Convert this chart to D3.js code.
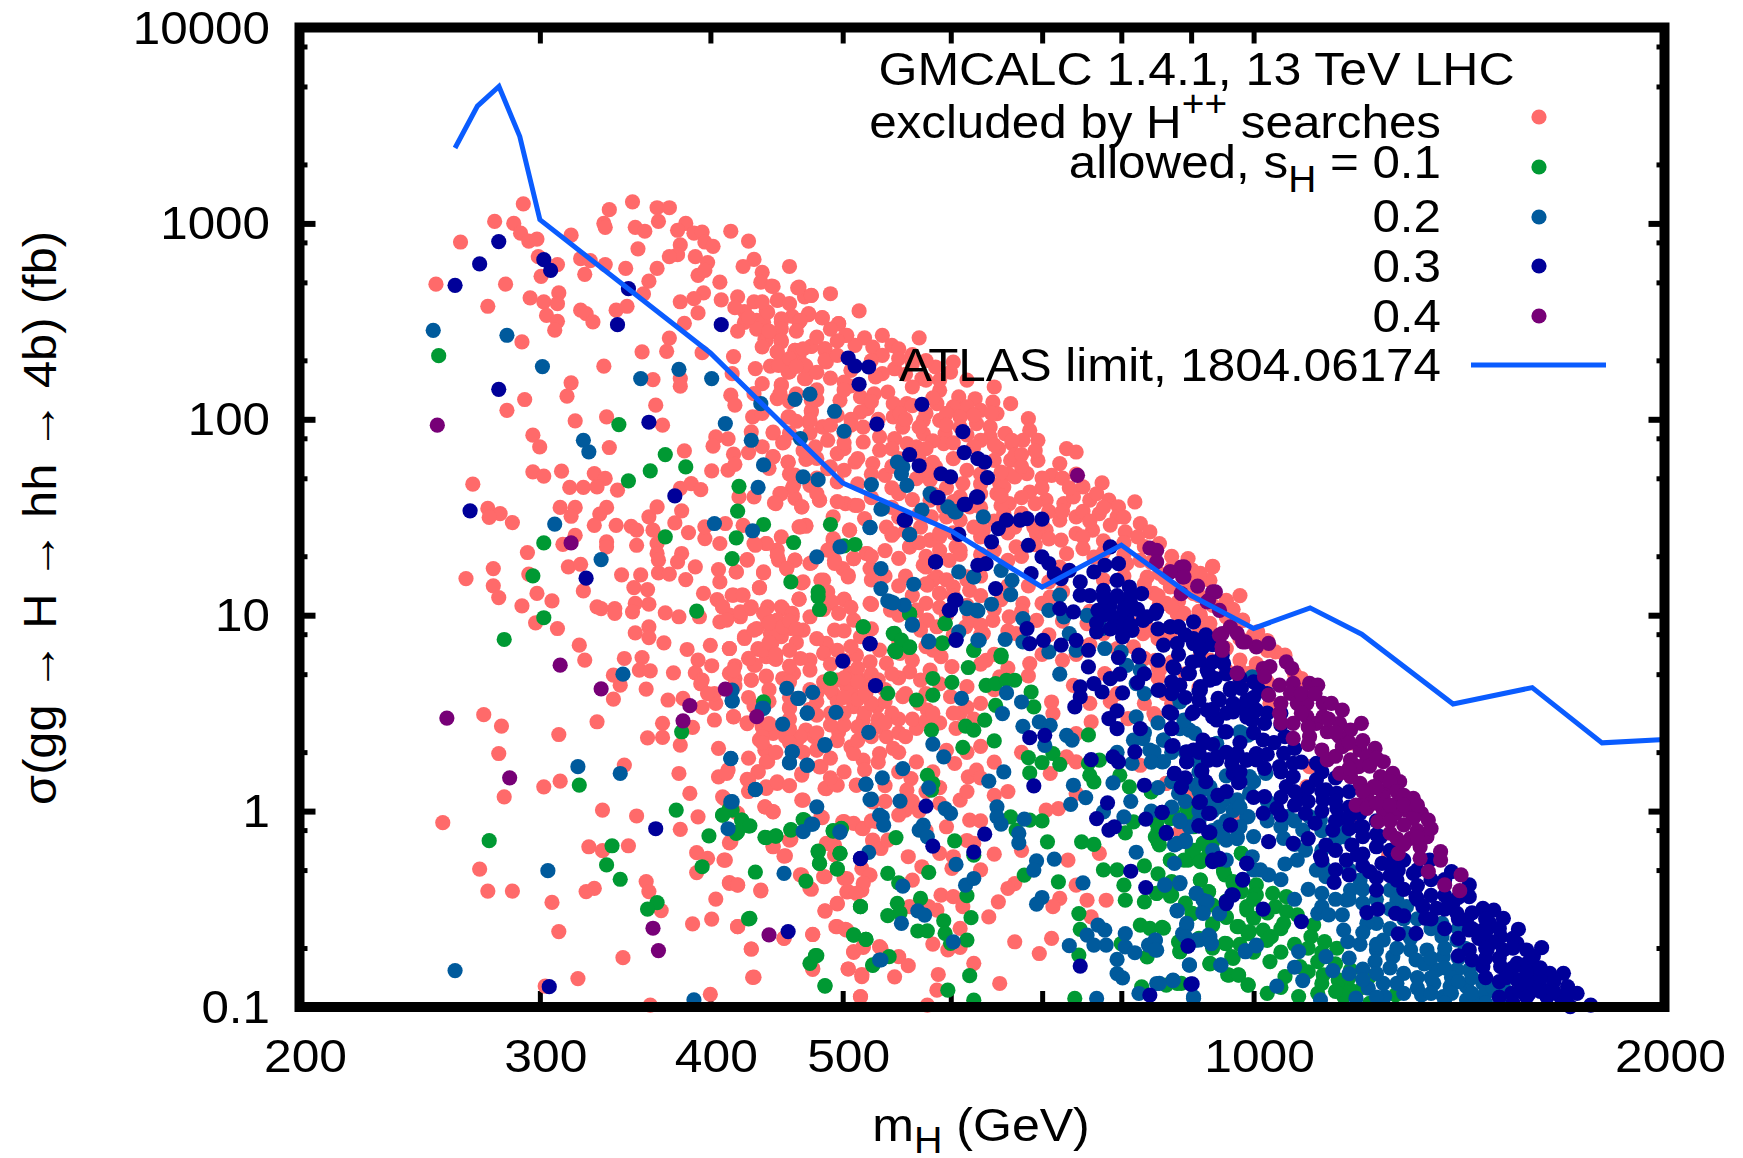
<!DOCTYPE html>
<html><head><meta charset="utf-8">
<script src="https://cdnjs.cloudflare.com/ajax/libs/d3/7.8.5/d3.min.js"></script>
<style>html,body{margin:0;background:#fff}svg{display:block}text{font-family:"Liberation Sans",Arial,sans-serif;fill:#000}</style>
</head><body><svg id="c" width="1743" height="1158"></svg>
<script>
// Points are stored as flat pairs: log10(mH / GeV), log10(sigma / fb)
const excluded=[
2.465,3.1,2.444,3.01,2.458,3,2.463,2.95,2.469,2.91,2.475,2.92,2.419,2.905,2.5,2.94,2.476,2.83,2.49,2.79,2.478,2.73,2.401,2.69,2.452,2.69,2.507,2.82,2.514,2.81,2.51,2.74,2.525,2.79,2.54,2.77,2.47,2.62,2.48,2.6,2.491,2.645,2.49,2.59,2.482,2.53,2.49,2.5,2.488,2.455,2.439,2.577,2.507,2.557,2.511,2.54,2.516,2.497,2.464,2.395,2.533,2.557,2.541,2.577,2.553,2.64,2.557,2.705,2.563,2.77,
2.524,3,2.528,3.07,2.525,2.98,2.545,3.11,2.563,3.08,2.572,3.08,2.564,3.01,2.547,2.98,2.554,2.96,2.549,2.87,2.584,3,2.578,2.965,2.58,2.89,2.578,2.84,2.572,2.83,2.59,2.95,2.596,2.956,2.598,2.905,2.604,2.883,2.591,2.83,2.6,2.8,2.593,2.735,2.598,2.76,2.617,2.96,2.63,2.91,2.634,2.816,2.626,2.78,2.64,2.75,2.639,2.7,2.647,2.68,2.66,2.78,2.609,2.7,2.61,2.61,2.622,2.625,2.597,2.645,2.59,2.616,2.58,2.6,2.593,2.543,2.583,2.49,2.572,2.415,2.57,2.347,2.552,2.344,2.596,2.34,2.619,2.32,
2.634,2.6,2.627,2.55,2.643,2.55,2.636,2.505,2.627,2.495,2.641,2.495,2.636,2.46,2.622,2.45,2.651,2.607,2.667,2.675,2.671,2.625,2.676,2.633,2.69,2.641,2.711,2.553,2.696,2.488,2.702,2.429,2.684,2.519,2.674,2.534,2.662,2.526,2.667,2.497,2.654,2.497,2.652,2.437,2.654,2.395,2.642,2.407,2.651,2.344,2.664,2.352,2.676,2.373,2.686,2.361,2.687,2.293,2.667,2.31,2.672,2.272,2.654,2.293,2.646,2.271,2.66,2.242,2.672,2.208,2.635,2.259,2.618,2.233,2.64,2.182,2.654,2.177,2.617,2.123,2.62,2.072,2.634,2.131,2.651,2.106,2.66,2.09,2.676,2.097,2.676,2.038,2.66,2.012,2.633,2.012,2.64,2.03,2.674,1.987,2.684,1.961,2.648,1.93,2.655,1.88,2.632,1.936,2.615,1.9,2.606,1.91,2.604,1.863,2.619,1.822,2.648,1.81,2.659,1.78,2.672,1.795,2.615,1.74,2.603,1.737,2.664,1.715,2.675,1.663,2.69,1.757,2.662,1.647,2.654,1.621,2.65,1.57,2.664,1.596,2.669,1.553,2.682,1.587,
2.58,2.208,2.58,2.169,2.56,2.203,2.524,2.271,2.5,2.186,2.497,2.118,2.466,2.101,2.453,2.046,2.562,2.072,2.526,2.012,2.503,1.992,2.567,1.97,2.472,1.919,2.477,1.859,2.528,1.856,2.583,1.839,2.472,1.732,2.48,1.71,2.493,1.735,2.428,1.669,2.517,1.723,2.525,1.698,2.499,1.652,2.509,1.652,2.519,1.655,2.534,1.638,2.58,1.647,2.588,1.672,2.595,1.641,2.634,1.604,2.623,1.604,
2.439,1.545,2.448,1.519,2.44,1.499,2.457,1.473,2.492,1.55,2.503,1.55,2.5,1.505,2.526,1.55,2.521,1.516,2.517,1.459,2.533,1.459,2.544,1.454,2.548,1.434,2.557,1.502,2.563,1.553,2.581,1.533,2.576,1.471,2.586,1.422,2.56,1.434,2.503,1.408,2.494,1.362,2.468,1.32,2.526,1.374,2.526,1.349,2.548,1.357,2.563,1.366,2.563,1.315,2.564,1.281,2.443,1.238,2.423,1.187,2.443,1.15,2.447,1.09,2.464,1.048,2.475,1.111,2.486,1.073,2.498,1.247,2.507,1.26,2.509,1.124,2.469,1.21,2.537,1.206,2.551,1.206,2.564,1.216,2.572,1.21,2.584,1.182,2.591,1.247,2.581,1.315,2.578,1.272,2.546,1.141,2.556,1.131,2.557,1.056,2.547,1.06,2.545,1.017,2.532,1.034,2.532,1.009,2.519,1.043,2.522,1.034,2.569,1.012,2.579,.992,2.594,.992,2.597,1.111,2.608,1.233,2.609,1.17,2.607,1.08,2.611,1.043,2.609,.966,2.618,1.102,2.625,1.102,2.631,1.034,2.624,.992,2.616,1,2.638,1.141,2.641,1.221,2.629,1.284,2.621,1.221,2.609,1.366,2.598,1.391,2.598,1.451,2.613,1.468,2.626,1.459,2.634,1.366,2.643,1.366,2.651,1.332,2.652,1.281,2.658,1.238,2.664,1.281,2.669,1.165,2.667,1.082,2.683,1.179,2.688,1.119,2.689,1.06,2.7,1.082,2.72,1.056,2.703,1.204,2.693,1.281,2.699,1.238,2.707,1.289,2.716,1.315,2.72,1.238,2.675,1.264,2.704,1.434,2.692,1.383,2.668,1.451,2.672,1.459,
2.644,1.043,2.655,1.034,2.662,.992,2.644,.975,2.653,.958,2.661,.932,2.646,.907,2.654,.89,2.636,.932,2.627,.89,2.647,.856,2.637,.825,2.643,.788,2.65,.774,2.634,.745,2.643,.689,2.632,.669,2.616,.83,2.602,.846,2.585,.825,2.568,.859,2.547,.91,2.557,.941,2.557,.886,2.506,.847,2.51,.771,2.49,.932,2.474,.961,2.539,.779,2.552,.784,2.55,.72,2.558,.716,2.531,.694,2.536,.643,2.531,.572,2.555,.623,2.575,.706,2.593,.771,2.603,.742,2.591,.706,2.596,.669,2.62,.742,2.616,.703,2.62,.677,
2.571,.567,2.582,.575,2.596,.529,2.606,.55,2.605,.465,2.619,.482,2.629,.451,2.567,.448,2.567,.376,2.556,.374,2.58,.337,2.589,.427,2.634,.536,2.66,.529,2.519,.456,2.491,.391,2.436,.492,2.449,.434,2.447,.294,2.492,.153,2.48,.124,2.451,.073,2.539,.235,2.579,.192,2.608,.32,2.608,.175,2.615,.21,2.629,.162,2.637,.2,2.644,.252,2.643,.312,2.638,.363,2.648,.397,2.657,.38,2.665,.354,2.64,.43,2.672,.414,2.678,.38,2.68,.312,2.683,.227,2.669,.184,2.651,.141,2.643,.116,2.686,.116,2.695,.133,2.709,.133,2.669,.056,2.587,.09,2.612,.065,2.523,.005,2.548,-.025,2.593,-.029,2.58,-.093,2.642,.022,2.648,-.003,2.62,-.003,2.683,-.029,2.7,-.054,2.713,-.088,2.724,-.054,
2.406,-.059,2.513,-.182,2.523,-.202,2.542,-.177,2.617,-.156,2.661,-.144,2.648,-.182,2.592,-.212,2.6,-.241,2.612,-.25,2.592,-.314,2.657,-.228,2.688,-.165,2.693,-.224,2.721,-.151,2.718,-.326,2.7,-.343,2.685,-.335,2.668,-.326,2.433,-.296,2.439,-.408,2.457,-.408,2.486,-.466,2.511,-.411,2.517,-.394,2.555,-.36,2.557,-.411,2.566,-.508,2.616,-.365,2.622,-.377,2.639,-.403,2.676,-.399,2.606,-.449,2.603,-.551,2.589,-.576,2.622,-.59,2.686,-.51,2.695,-.474,2.703,-.411,2.713,-.403,2.694,-.59,2.702,-.607,2.677,-.629,2.656,-.649,2.491,-.615,2.632,-.704,2.538,-.748,2.505,-.855,2.481,-.893,2.634,-.848,2.602,-.935,2.558,-.99,2.707,-.717,2.677,-.802,2.703,-.806,2.713,-.845,2.712,-.947,2.714,-.692,2.727,-.7,
2.728,2.428,2.755,2.416,2.715,2.416,2.708,2.377,2.721,2.369,2.735,2.377,2.74,2.36,2.728,2.326,2.75,2.284,2.737,2.258,2.728,2.233,2.723,2.216,2.767,2.267,2.778,2.241,2.78,2.292,2.757,2.207,2.75,2.165,2.732,2.139,2.736,2.08,2.746,2.08,2.77,2.148,2.784,2.114,2.796,2.105,2.81,2.165,2.822,2.08,2.809,2.088,2.812,2.029,2.8,2.046,2.79,2.063,2.78,2.063,2.768,2.08,2.77,1.995,2.785,2.012,2.797,1.978,2.807,1.961,2.818,1.927,2.807,1.91,2.8,1.893,2.823,1.876,2.813,1.85,2.774,1.927,2.773,1.876,2.758,1.927,2.758,1.995,2.743,1.96,2.736,2.012,2.741,2.029,2.737,1.901,2.746,1.876,2.753,1.859,2.726,1.91,2.714,1.884,2.726,1.842,2.712,2.037,2.717,2.054,2.714,1.96,2.697,2.097,2.712,2.114,2.78,1.799,2.79,1.739,2.767,1.757,2.721,1.774,2.708,1.782,2.73,1.714,2.753,1.697,2.822,1.79,2.82,1.722,2.814,1.672,2.787,1.672,
2.685,1.96,2.688,1.893,2.679,1.859,2.695,1.825,2.673,1.799,2.659,1.782,2.648,1.808,2.688,1.748,2.676,2.046,2.675,1.995,2.659,2.012,2.648,1.935,2.656,1.884,2.654,2.173,2.653,2.131,2.671,2.207,2.671,2.275,2.659,2.241,2.652,2.275,2.664,2.352,2.676,2.372,2.686,2.352,2.686,2.301,2.695,2.326,2.674,2.539,2.684,2.518,2.668,2.505,2.696,2.488,2.701,2.428,2.654,2.513,2.654,2.462,2.654,2.403,2.651,2.343,2.643,2.403,2.644,2.547,2.652,2.61,2.648,2.678,2.666,2.671,2.676,2.632,
2.835,2.003,2.836,1.944,2.818,1.927,2.831,1.893,2.842,1.893,2.813,1.85,2.823,1.893,2.825,1.816,2.863,1.85,2.87,1.833,2.842,1.79,2.858,1.774,2.852,1.714,2.834,1.723,2.825,1.706,2.817,1.655,2.812,1.62,2.821,1.57,2.836,1.629,2.848,1.587,2.861,1.57,2.875,1.655,2.889,1.675,2.868,1.604,2.88,1.587,2.894,1.587,2.901,1.553,2.913,1.578,2.887,1.519,2.87,1.502,2.9,1.502,2.858,1.485,2.848,1.434,2.859,1.383,2.87,1.416,2.882,1.434,2.906,1.425,2.917,1.467,2.924,1.425,2.931,1.366,2.952,1.289,2.97,1.25,2.956,1.195,2.968,1.178,2.907,1.263,2.922,1.195,2.939,1.144,2.931,1.06,2.944,1.008,2.956,1.11,2.98,1.076,2.98,.991,2.992,.974,2.917,1.28,2.883,1.297,2.863,1.314,2.841,1.416,2.817,1.519,
2.782,1.349,2.777,1.28,2.76,1.246,2.765,1.178,2.77,1.11,2.792,1.127,2.736,1.416,2.748,1.349,2.763,1.383,2.719,1.06,2.753,1.025,2.76,.974,2.809,.974,2.821,.991,2.831,1.06,2.841,.974,2.851,1.093,2.826,.906,2.792,.991,2.802,.906,2.878,.957,2.89,.906,2.919,.906,2.902,.974,2.912,.838,2.939,.906,2.97,.906,2.858,1.246,2.826,1.349,2.839,1.45,2.802,1.433,2.785,1.485,2.792,1.553,2.731,1.45,2.764,1.502,2.775,1.502,2.773,1.553,2.785,1.604,2.756,1.45,2.763,1.587,2.763,1.689,
2.653,1.621,2.649,1.573,2.663,1.663,2.669,1.553,2.682,1.587,2.701,1.57,2.708,1.561,2.692,1.502,2.715,1.493,2.704,1.434,2.672,1.454,2.667,1.451,2.692,1.391,2.688,1.332,2.643,1.366,2.635,1.357,2.654,1.4,2.651,1.306,2.664,1.281,2.658,1.238,2.676,1.267,2.693,1.264,2.703,1.196,2.717,1.315,2.719,1.238,2.707,1.289,2.735,1.408,2.748,1.349,2.763,1.383,2.77,1.4,2.758,1.255,2.768,1.196,2.761,1.153,2.77,1.111,2.78,1.145,2.79,1.196,2.785,1.332,2.641,1.216,2.638,1.14,2.621,1.221,2.629,1.281,2.67,1.17,2.685,1.179,2.687,1.119,2.667,1.082,2.7,1.08,2.691,1.068,2.72,1.055,2.696,1.009,2.707,.975,2.675,.992,2.67,.924,2.693,.924,2.712,.89,2.726,.822,2.687,.856,2.731,.754,2.709,.796,2.719,.762,2.704,.703,2.712,.669,2.716,.6,2.702,.635,2.695,.669,2.692,.6,2.707,.533,2.724,.533,2.736,.482,2.685,.805,2.675,.771,2.668,.779,2.663,.703,2.655,.677,2.643,.686,2.632,.669,2.619,.72,2.635,.745,2.616,.83,2.637,.83,2.649,.779,2.627,.881,2.634,.924,2.654,1.043,2.641,1.009,2.651,.975,2.662,1.009,2.651,.907,2.641,.822,2.619,1.102,2.626,1.102,2.611,1.043,2.624,1.017,2.632,1.043,2.614,.975,2.748,.711,2.763,.72,2.756,.669,2.779,.737,2.771,.788,2.79,.635,2.743,.584,2.761,.516,2.778,.584,2.785,.499,2.782,.422,2.753,.422,2.696,.405,2.731,.38,2.66,.524,2.64,.38,2.619,.481,2.629,.447,2.645,.447,2.668,.38,2.714,.464,2.724,.43,2.753,1.026,2.761,.975,2.768,.941,2.756,.924,2.789,.941,2.795,.975,2.765,.822,2.741,.805,2.734,1.026,
2.642,.311,2.643,.251,2.637,.2,2.63,.158,2.614,.192,2.643,.124,2.651,.149,2.669,.192,2.682,.226,2.68,.311,2.705,.328,2.714,.26,2.707,.294,2.726,.294,2.736,.32,2.753,.251,2.749,.166,2.746,.107,2.781,.243,2.791,.175,2.797,.209,2.687,.115,2.693,.141,2.709,.132,2.721,.047,2.67,.056,2.642,.022,2.648,-.004,2.684,-.033,2.611,.073,2.622,-.012,2.745,.005,2.785,.056,2.792,-.046,2.775,-.08,2.77,-.216,2.699,-.055,2.707,-.063,2.714,-.089,2.687,-.165,2.693,-.174,2.721,-.148,2.727,-.191,2.732,-.148,2.616,-.162,2.66,-.148,2.648,-.179,2.656,-.23,2.613,-.25,2.747,-.233,2.78,-.233,2.795,-.165,2.713,-.293,2.719,-.327,2.714,-.369,2.702,-.344,2.686,-.335,2.669,-.327,2.675,-.395,2.702,-.412,2.709,-.42,2.757,-.284,2.75,-.352,2.779,-.293,2.616,-.369,2.622,-.378,2.639,-.407,2.695,-.471,2.686,-.509,2.748,-.488,2.768,-.505,2.771,-.429,2.78,-.437,2.787,-.488,2.762,-.488,2.622,-.59,2.677,-.63,2.695,-.59,2.701,-.604,2.656,-.65,2.632,-.704,2.707,-.721,2.714,-.696,2.726,-.692,2.765,-.679,2.785,-.599,2.785,-.696,2.776,-.709,2.74,-.743,2.747,-.789,2.703,-.806,2.713,-.834,2.737,-.846,2.677,-.808,2.633,-.849,2.769,-.834,2.768,-.914,2.712,-.948,2.795,-.777,2.761,-.99,
2.804,.77,2.814,.685,2.852,.557,2.853,.498,2.881,.455,2.87,.396,2.863,.277,2.87,.251,2.851,.192,2.857,.013,2.848,.005,2.864,-.25,2.887,-.216,2.892,-.455,2.878,-.455,2.858,-.446,2.853,-.488,2.87,-.378,2.881,-.54,2.852,-.65,2.825,-.667,2.843,-.727,2.825,-.37,2.82,-.395,2.813,-.463,2.806,-.54,2.814,-.88,2.87,.09,2.936,.141,2.917,.234,2.908,.472,2.927,.498,2.928,.77,2.931,.719,2.891,.702,2.868,.642,2.836,.753,2.95,.073,2.946,-.106,2.997,.549,2.966,.736,3.002,.753,
2.97,1.247,2.961,1.213,2.98,1.068,2.992,.975,3.003,.915,3.016,.813,3.023,.796,3.035,.677,2.99,.771,2.997,.703,2.931,1.213,2.927,1.111,2.936,1.06,2.949,1.009,2.961,1,2.968,.958,2.93,.737,2.925,.924,2.968,.771,3.012,.55,2.994,.55,2.928,.482,2.936,.142,2.951,.074,3.07,.346,3.041,.227,3.039,.125,3.075,-.028,3.099,-.224,2.949,-.08,2.99,-.046,
2.705,2.25,2.72,2.3,2.74,2.31,2.75,2.33,2.76,2.3,2.705,2.17,2.722,2.13,2.745,2.23,2.76,2.2,2.77,2.2,2.79,2.2,2.765,2.11,2.75,2.07,2.76,2.03,2.725,2,2.72,2.09,2.705,2,2.7,1.93,2.745,2,2.755,1.96,2.775,2.03,2.795,2.02,2.808,2.03,2.785,1.96,2.775,1.97,2.765,1.89,2.78,1.88,2.79,1.92,2.795,1.86,2.81,1.87,2.735,1.85,2.7,1.85,2.71,1.8,2.74,1.8,2.755,1.8,2.765,1.78,2.76,1.85,2.81,1.79,2.83,1.82,2.83,1.76,2.84,1.84,2.815,1.73,2.8,1.72,2.8,1.67,2.775,1.65,2.76,1.74,2.735,1.76,
2.845,1.7,2.86,1.7,2.87,1.72,2.845,1.65,2.865,1.65,2.885,1.62,2.85,1.53,2.84,1.57,2.83,1.6,2.83,1.52,2.845,1.47,2.86,1.53,2.875,1.53,2.89,1.55,2.905,1.5,2.895,1.46,2.88,1.48,2.875,1.4,2.89,1.38,2.905,1.37,2.915,1.4,2.92,1.35,2.905,1.31,2.89,1.32,2.875,1.34,2.94,1.3,2.925,1.27,2.94,1.24,2.955,1.23,2.935,1.19,2.92,1.16,2.905,1.2,2.89,1.18,2.95,1.15,2.96,1.1,2.945,1.07,2.97,1.05,2.985,1.03,2.96,1.02,2.99,1.1,3,.9,3.01,.87,2.93,1.1,2.84,1.36,2.85,1.39,2.82,1.42,2.81,1.48,2.8,1.55,2.825,1.45,2.815,1.56,2.8,1.4,2.81,1.33,2.83,1.3,2.82,1.28,2.8,1.31,2.785,1.31,2.77,1.33,2.76,1.3,2.755,1.37,2.74,1.29,2.745,1.43,2.74,1.5,2.755,1.52,2.735,1.55,2.78,1.42,2.795,1.45,2.77,1.42,2.8,1.2,2.79,1.18,2.775,1.18,2.76,1.16,2.745,1.2,2.75,1.1,2.74,1.15,2.78,1.1,2.8,1.1,2.82,1.15,2.835,1.15,2.85,1.17,2.86,1.12,2.845,1.06,2.815,1.08,2.83,1.02,2.81,1.03,2.79,1.05,2.77,1.04,2.72,1.18,2.73,1.2,2.72,1.3,2.73,1.33,
2.66,2.31,2.665,2.27,2.68,2.24,2.69,2.21,2.7,2.19,2.7,2.15,2.68,2.15,2.665,2.13,2.68,2.1,2.695,2.02,2.705,1.97,2.665,1.99,2.66,1.93,2.675,1.93,2.69,1.97,2.7,1.88,2.67,1.84,2.68,1.8,2.7,1.74,2.72,1.72,2.735,1.65,2.71,1.67,2.695,1.68,2.68,1.7,2.66,1.72,2.645,1.75,2.63,1.83,2.64,1.86,2.62,1.77,2.68,1.62,2.695,1.58,2.71,1.56,2.72,1.6,2.75,1.59,2.78,1.58,2.8,1.62,2.815,1.61,2.765,1.62,2.74,1.62,2.665,2.45,2.68,2.42,2.695,2.4,2.67,2.36,2.64,2.37,2.645,2.45,2.63,2.52,2.62,2.57,2.66,2.59,2.69,2.46,2.64,2.6,
2.645,.96,2.655,.94,2.66,.97,2.665,.93,2.645,.86,2.665,.86,2.66,.82,2.65,.8,2.63,.78,2.66,.74,2.66,.66,2.675,.72,2.69,.75,2.7,.77,2.695,.82,2.705,.84,2.72,.7,2.71,.73,2.725,.67,2.74,.68,2.73,.62,2.72,.64,2.705,.62,2.73,.56,2.71,.57,2.695,.56,2.68,.56,2.675,.62,2.685,.66,2.66,.58,2.645,.56,2.63,.58,2.66,.47,2.68,.49,2.69,.5,2.715,.5,2.74,.47,2.75,.47,2.76,.46,2.645,.62,2.62,.64,2.605,.6,2.595,.65,2.6,.6,2.66,.42,2.68,.4,2.7,.44,2.72,.38,2.74,.4,2.77,.45,2.795,.47,2.8,.55,2.79,.53,2.77,.65,2.76,.6,2.75,.77,2.74,.87,2.72,.93,2.7,.92,2.68,.88,2.705,1.04,2.685,1.03,2.74,1,2.76,1.06,2.775,1,2.78,.9,2.76,.84,2.8,.9,2.81,.8,2.8,.75,2.82,.73,2.835,.69,2.81,.62,
2.64,.35,2.65,.3,2.63,.27,2.66,.35,2.67,.3,2.69,.27,2.695,.36,2.71,.36,2.725,.25,2.74,.3,2.745,.38,2.63,.1,2.66,.13,2.7,.2,2.69,.17,2.715,.21,2.73,.13,2.75,.05,2.77,.12,2.73,.05,2.755,0,2.765,.2,2.775,.31,2.8,.33,2.81,.25,2.79,.3,
2.88,.85,2.9,.83,2.92,.78,2.94,.76,2.96,.78,2.98,.83,2.87,.8,2.86,.77,2.845,.8,2.95,.7,2.97,.68,2.99,.72,2.93,.68,2.92,.55,2.935,.6,2.9,.6,2.88,.55,2.895,.56,2.94,.55,2.96,.63,2.98,.72,2.94,1.04,2.91,.96,2.88,1.02,2.86,.97,2.85,.9,2.82,.92,2.8,.95,2.93,.88,2.96,.93,2.99,.88,3.01,.82,3.03,.7,3.03,.65,3.01,.66,2.99,.66,
2.69,.44,2.7,.5,2.71,.43,2.725,.47,2.735,.5,2.69,.62,2.7,.68,2.71,.66,2.72,.55,2.73,.45,2.675,.52,2.68,.6,2.7,.58,2.715,.6,2.735,.7,2.745,.6,2.755,.55,2.765,.5,2.78,.5,
2.74,.2,2.76,.1,2.77,.04,2.8,.17,2.81,.08,2.79,.1,2.74,-.02,2.72,-.05,2.76,-.1,2.8,-.05,2.83,.3,2.82,.1,2.83,-.2,2.81,-.22,2.79,-.15,2.8,-.3];
const s01=[
2.403,2.325,2.535,1.973,2.569,1.82,2.584,1.757,2.558,1.737,2.542,1.686,2.623,1.658,2.622,1.531,2.569,1.4,2.48,1.369,2.641,1.463,2.621,1.395,2.618,1.289,2.663,1.371,2.69,1.463,2.7,1.354,2.708,1.361,2.472,1.201,2.661,1.17,2.681,1.119,2.681,1.094,2.682,1.029,2.592,1.021,2.48,.987,2.451,.876,2.714,.941,2.69,.677,2.641,.558,2.581,.405,2.506,.133,2.577,.005,2.611,-.02,2.618,.005,2.625,-.046,2.63,-.076,2.621,-.114,2.601,-.126,2.661,-.097,2.671,-.046,2.642,-.134,2.65,-.126,2.692,-.102,2.698,-.088,2.44,-.151,2.53,-.177,2.526,-.275,2.536,-.348,2.596,-.284,2.681,-.204,2.697,-.216,2.682,-.267,2.695,-.294,2.635,-.311,2.672,-.357,2.563,-.467,2.556,-.5,2.631,-.547,2.712,-.488,2.707,-.632,2.716,-.655,2.679,-.738,2.675,-.777,2.721,-.785,2.686,-.893,
2.748,1.008,2.736,.906,2.748,.838,2.737,.821,2.774,.957,2.772,.859,2.795,.821,2.815,.796,2.714,.94,
2.737,.907,2.742,.873,2.748,.835,2.738,.813,2.774,.958,2.772,.856,2.795,.822,2.791,.733,2.779,.657,2.765,.677,2.765,.592,2.753,.567,2.732,.601,2.748,1.005,2.764,.413,2.789,.434,2.795,.413,
2.787,.325,2.761,.183,2.765,.141,2.764,.107,2.616,.013,2.611,-.021,2.625,-.046,2.631,-.075,2.622,-.106,2.643,-.135,2.65,-.128,2.661,-.094,2.67,-.043,2.692,-.1,2.698,-.089,2.738,-.135,2.681,-.208,2.682,-.267,2.697,-.216,2.695,-.296,2.732,-.318,2.74,-.366,2.762,-.313,2.781,-.152,2.795,-.225,2.79,-.432,2.756,-.446,2.739,-.471,2.741,-.519,2.732,-.534,2.712,-.488,2.63,-.55,2.707,-.633,2.716,-.655,2.754,-.612,2.761,-.611,2.773,-.56,2.793,-.544,2.774,-.624,2.778,-.675,2.79,-.658,2.68,-.738,2.733,-.743,2.721,-.788,2.686,-.891,2.792,-.84,2.776,-.914,2.795,-.965,
2.815,.787,2.804,.642,2.811,.651,2.819,.668,2.825,.668,2.837,.608,2.811,.54,2.839,.532,2.803,.464,2.81,.358,2.835,.273,2.845,.248,2.853,.294,2.858,.239,2.836,.195,2.879,.389,2.879,.243,2.887,.26,2.88,.183,2.883,.149,2.902,.183,2.909,.124,2.925,.098,2.822,-.029,2.836,-.046,2.845,-.05,2.826,-.097,2.849,-.157,2.874,-.157,2.883,-.17,2.912,-.055,2.906,-.111,2.93,-.097,2.93,-.157,2.939,-.038,2.952,-.012,2.956,-.2,2.963,-.165,2.952,-.25,2.939,-.25,2.961,-.25,2.978,-.31,2.991,-.216,2.985,-.37,2.995,-.488,3.001,-.42,2.961,-.352,2.967,-.412,2.832,-.327,2.857,-.361,2.905,-.378,2.906,-.455,2.92,-.463,2.929,-.42,2.939,-.434,2.955,-.523,2.872,-.523,2.873,-.604,2.917,-.582,2.924,-.599,2.933,-.594,2.97,-.582,2.98,-.54,2.988,-.59,2.996,-.625,2.903,-.676,2.922,-.744,2.872,-.735,2.945,-.667,2.946,-.718,2.98,-.676,2.985,-.752,2.968,-.78,2.982,-.837,2.989,-.837,2.996,-.888,2.944,-.88,2.936,-.888,2.918,-.897,2.869,-.956,
2.925,.099,2.951,.014,2.941,-.011,2.929,-.062,2.928,-.131,2.931,-.173,2.956,-.08,2.963,-.165,2.97,-.156,2.955,-.207,2.939,-.25,2.949,-.25,2.961,-.258,2.967,-.224,2.991,-.216,2.978,-.301,2.979,-.326,2.961,-.352,2.985,-.36,2.967,-.411,2.991,-.411,3.002,-.377,3.002,-.428,3.014,-.42,3.024,-.437,2.929,-.42,2.94,-.428,2.955,-.522,2.98,-.542,2.995,-.505,3,-.547,3.016,-.488,3.024,-.513,3.022,-.573,3.032,-.53,3.044,-.581,2.97,-.576,2.989,-.59,2.997,-.615,3.007,-.607,3.013,-.641,2.934,-.598,2.979,-.675,2.946,-.666,2.946,-.717,3.042,-.641,3.052,-.666,3.061,-.7,3.012,-.768,2.968,-.777,2.984,-.743,2.981,-.836,2.989,-.836,2.996,-.887,2.947,-.879,3.023,-.845,3.034,-.794,3.047,-.768,3.051,-.836,3.062,-.862,3.071,-.811,3.066,-.879,3.071,-.913,3.085,-.845,3.066,-.947,3.047,-.93,3.033,-.947,3.104,-.938,3.085,-.981,
3,-.45,3.01,-.52,3.02,-.6,3.01,-.66,3.03,-.68,3.05,-.72,3.06,-.78,3.07,-.85,3.08,-.9,3.05,-.88,3.04,-.82,3.06,-.92,2.96,-.65,2.97,-.7,2.99,-.68,3,-.72,3.02,-.72,2.97,-.48,2.95,-.47,2.98,-.46,2.94,-.36,2.93,-.32,2.92,-.28,2.9,-.3,2.89,-.3,3.04,-.7,3.02,-.9,3.01,-.93];
const s02=[
2.399,2.454,2.453,2.429,2.479,2.269,2.551,2.208,2.579,2.255,2.603,2.208,2.509,1.893,2.513,1.834,2.613,1.978,2.632,1.893,2.639,2.08,2.664,2.102,2.675,2.128,2.693,2.041,2.7,1.939,2.668,1.902,2.641,1.767,2.67,1.706,2.681,1.692,2.637,1.652,2.72,1.667,2.488,1.465,2.522,1.284,2.605,1.468,2.633,1.431,2.719,1.448,2.697,1.349,2.68,1.298,2.727,1.238,2.727,1.136,2.538,.699,2.618,.618,2.618,.562,2.658,.626,2.667,.575,2.677,.606,2.673,.499,2.694,.504,2.641,.524,2.655,.444,2.718,.402,2.686,.34,2.662,.303,2.66,.249,2.673,.235,2.617,.269,2.505,.227,2.536,.192,2.635,.111,2.618,.048,2.68,.022,2.716,.138,2.72,.061,2.615,-.09,2.676,-.066,2.67,-.105,2.697,-.105,2.718,-.211,2.483,-.304,2.656,-.318,2.415,-.814,2.59,-.964,2.727,-.76,2.728,-.03,
2.739,1.782,2.743,1.757,2.742,1.722,2.746,1.663,2.764,1.612,2.776,1.553,2.757,1.536,2.727,1.541,2.782,1.527,2.802,1.502,2.719,1.447,2.748,1.411,2.815,1.229,2.823,1.178,2.822,1.105,2.784,1.221,2.795,1.195,2.751,1.158,2.734,1.068,2.744,1.051,2.79,1.037,2.798,1.022,2.808,1.056,2.75,.949,2.762,.864,2.799,.872,2.784,.915,2.818,.876,2.831,.983,2.85,1.025,2.858,1.102,2.861,.991,2.878,.999,2.831,.864,2.85,.813,2.865,.906,2.891,.83,2.903,.813,2.87,.821,2.889,.932,
2.728,1.544,2.748,1.412,2.763,1.621,2.781,1.527,2.732,1.073,2.736,1.063,2.75,.953,2.795,1.196,2.762,.868,2.79,1.034,2.797,1.026,2.798,.873,2.666,.575,2.673,.502,2.618,.563,2.64,.524,2.786,.575,
2.617,.268,2.662,.302,2.66,.246,2.673,.234,2.686,.336,2.743,.217,2.728,.17,2.765,.342,2.773,.277,2.716,.137,2.719,.059,2.762,.119,2.741,.051,2.635,.109,2.617,.047,2.726,-.021,2.729,-.072,2.677,-.067,2.697,-.109,2.774,.013,2.778,-.012,2.758,-.072,2.755,-.097,2.761,-.131,2.782,-.272,2.743,-.383,2.789,-.378,2.795,-.344,2.754,-.509,2.759,-.531,2.742,-.573,2.78,-.667,2.726,-.76,
2.858,.699,2.819,.603,2.83,.557,2.816,.498,2.831,.433,2.843,.455,2.851,.438,2.847,.336,2.863,.387,2.867,.362,2.817,.2,2.806,.153,2.868,.132,2.877,.069,2.866,.034,2.897,.144,2.812,.022,2.812,-.029,2.815,-.067,2.832,-.041,2.828,-.114,2.828,-.162,2.905,-.029,2.89,-.004,2.911,.243,2.914,.481,2.914,.651,2.907,.744,2.917,.719,2.92,.6,2.912,.362,2.919,.37,2.924,.311,2.934,.362,2.933,.251,2.946,.557,2.946,.421,2.953,.413,2.957,.132,2.968,.124,2.945,.09,2.978,.056,2.988,.039,2.995,-.029,2.98,-.148,2.988,-.14,2.975,-.08,2.946,-.046,2.953,-.08,2.944,-.165,2.95,-.148,2.942,-.267,2.914,-.21,2.854,-.245,2.841,-.254,2.839,-.301,2.875,-.366,2.935,-.378,2.946,-.37,2.845,-.441,2.841,-.475,2.958,-.42,2.963,-.455,2.963,-.514,2.944,-.509,2.975,-.523,2.886,-.582,2.878,-.633,2.891,-.608,2.892,-.684,2.883,-.684,2.865,-.687,2.906,-.625,2.906,-.693,2.913,-.723,2.9,-.757,2.9,-.829,2.904,-.851,2.928,-.659,2.923,-.684,2.929,-.71,2.951,-.582,2.948,-.625,2.958,-.659,2.967,-.633,2.969,-.676,2.994,-.718,3.002,-.684,2.976,-.786,2.953,-.786,2.929,-.88,2.941,-.863,2.916,-.931,2.885,-.956,2.956,-.948,2.999,.685,2.992,.396,
2.949,.465,2.957,.397,2.934,.363,2.927,.303,2.934,.252,2.973,.346,2.99,.405,2.996,.388,3.009,.193,2.997,.176,2.96,.141,2.968,.108,2.975,.023,2.988,.057,2.997,.091,2.985,.003,2.996,-.028,2.946,-.054,2.95,-.156,2.942,-.173,2.978,-.131,2.988,-.131,3.025,-.028,3.041,-.028,3.049,-.046,3.036,-.097,3.022,-.139,3.038,-.199,3.032,-.25,3.023,-.27,2.999,-.233,3.011,-.326,3.005,-.3,2.935,-.377,2.946,-.365,2.958,-.42,2.966,-.462,2.963,-.522,2.944,-.508,2.975,-.522,2.951,-.573,2.95,-.641,2.928,-.658,2.928,-.709,2.96,-.658,2.968,-.641,2.969,-.675,2.994,-.712,3.002,-.688,2.953,-.785,2.976,-.785,2.941,-.865,2.931,-.879,2.956,-.955,3.017,-.893,3.036,-.865,3.03,-.797,3.033,-.717,3.047,-.522,3.05,-.488,3.055,-.53,3.065,-.53,3.066,-.607,3.069,-.666,3.078,-.68,3.053,-.743,3.07,-.751,3.058,-.814,3.08,-.807,3.049,-.964,3.084,-.904,3.095,-.879,3.096,-.947,3.075,-.955,3.105,-.879,3.12,-.904,3.123,-.938,3.11,-.828,3.102,-.743,3.09,-.709,3.089,-.768,3.095,-.658,3.09,-.573,3.083,-.573,3.08,-.47,3.071,-.403,3.068,-.454,3.078,-.352,3.1,-.403,3.105,-.454,3.112,-.488,3.138,-.573,3.138,-.641,3.112,-.624,3.115,-.709,3.127,-.709,3.119,-.76,3.149,-.658,3.134,-.811,3.139,-.743,3.149,-.811,3.132,-.879,3.144,-.896,3.158,-.811,3.156,-.896,3.168,-.879,3.139,-.947,3.156,-.964,3.183,-.896,3.181,-.964,3.166,-.964,3.061,-.097,3.066,-.131,3.051,-.284,3.046,-.301,3.053,-.335,
3.125,-.78,3.13,-.85,3.14,-.8,3.145,-.85,3.15,-.87,3.16,-.85,3.16,-.93,3.145,-.93,3.13,-.93,3.17,-.93,3.175,-.9,3.15,-.75,3.14,-.7,3.13,-.75,3.155,-.7,3.11,-.93,3.12,-.85,3.1,-.8,3.09,-.83,3.08,-.86,3.105,-.7,3.115,-.65,3.07,-.83,3.09,-.95,3.14,-.98,3.17,-.98,
2.96,.2,2.94,.15,2.95,.05,2.96,0,2.93,.12,2.97,0,3.01,.05,3.03,-.05,3.02,-.08,3.05,-.1,3.06,-.15,3.03,-.17,3.05,-.2,3.07,-.3,3.08,-.4,3.09,-.45,3.07,-.45,3.1,-.5,3.11,-.55,3.1,-.6,3.08,-.62,3.09,-.68,3.13,-.6,3.15,-.6,3.12,-.55,2.96,-.05,2.98,-.05,2.97,-.1,2.99,-.08,3,-.13,3.01,0,
2.93,.45,2.92,.4,2.925,.25,2.95,.3,2.94,.3,2.96,.25,2.9,.3,2.91,.05,2.925,0,2.94,.02,2.97,.05,2.98,.18,2.96,.1,3,.15,2.99,.02,3.01,-.05,2.97,-.2,2.98,-.25,3,-.3,3.02,-.35,3.04,-.4,3.03,-.45,3.06,-.45,3.05,-.42];
const s03=[
2.447,2.907,2.433,2.793,2.415,2.684,2.48,2.815,2.485,2.76,2.542,2.667,2.534,2.483,2.61,2.483,2.447,2.153,2.557,1.985,2.576,1.609,2.703,2.313,2.708,2.272,2.718,2.267,2.711,2.179,2.724,1.975,2.426,1.533,2.511,1.189,2.719,.854,2.699,.766,2.723,.64,2.562,-.09,2.712,-.241,2.659,-.615,2.484,-.896,
2.757,2.076,2.787,1.937,2.788,1.83,2.748,1.82,2.755,1.763,2.798,1.799,2.803,1.782,2.805,1.702,2.771,1.722,2.778,1.706,2.798,1.603,2.789,1.566,2.768,1.6,2.745,1.485,2.845,1.49,2.834,1.493,2.829,1.485,2.819,1.485,2.813,1.442,2.808,1.374,2.784,1.413,2.835,1.357,2.845,1.298,2.85,1.264,2.798,1.255,2.804,1.263,2.767,1.272,2.837,1.212,2.811,1.136,2.781,1.076,2.777,1.025,2.854,1.212,2.865,1.229,2.859,1.187,2.873,1.17,2.873,1.102,2.858,1.034,2.868,1.017,2.834,.932,2.846,.872,2.836,.855,2.859,.847,2.87,.872,2.879,.821,2.885,.915,2.782,.872,2.719,.855,2.895,1.349,2.891,1.255,2.901,1.263,2.883,1.221,2.89,1.127,2.9,1.178,2.909,1.144,2.918,1.11,2.892,1.06,2.905,1.076,2.886,1.025,2.897,.991,2.907,.991,2.898,.94,2.911,.923,2.904,.889,2.922,.991,2.929,1.025,2.919,.974,2.939,.94,2.945,.94,2.956,.966,2.934,.847,2.944,.855,2.956,.855,2.963,.838,2.977,.796,2.916,.796,
2.744,1.485,2.769,1.6,2.788,1.566,2.797,1.604,2.767,1.272,2.782,1.077,2.778,1.029,2.782,.876,2.76,.025,2.765,-.179,2.712,-.243,2.795,-.209,
2.803,-.118,2.839,.129,2.836,.375,2.847,.387,2.881,.263,2.897,.277,2.901,.251,2.913,.302,2.92,.132,2.893,.042,2.885,-.038,2.894,-.097,2.898,-.08,2.921,-.041,2.933,-.007,2.936,-.109,2.96,.044,2.967,-.012,2.96,-.075,2.967,-.109,2.983,-.072,2.974,.081,2.947,.124,2.942,.192,2.91,-.307,2.921,-.39,2.873,-.791,2.924,-.939,2.954,-.883,2.952,-.689,2.992,-.349,2.995,-.267,2.97,-.25,2.975,-.247,2.98,-.472,2.985,-.429,2.9,.421,2.894,.472,2.9,.512,2.917,.421,2.94,.498,2.94,.421,2.94,.331,2.951,.251,2.956,.311,2.963,.362,2.967,.26,2.962,.209,2.973,.277,2.98,.404,2.986,.277,2.985,.192,2.99,.149,2.995,.26,3.002,.294,2.966,.515,2.956,.506,2.97,.481,2.975,.566,2.983,.617,2.992,.532,2.999,.464,2.961,.617,2.953,.702,2.941,.736,2.966,.719,2.968,.668,2.93,.617,2.915,.656,2.904,.603,2.889,.608,2.902,.699,2.895,.676,2.883,.651,2.873,.634,2.869,.532,2.873,.583,2.879,.736,2.901,.784,2.916,.787,
2.928,1.009,2.939,.941,2.945,.941,2.956,.881,2.961,.822,2.96,.771,2.978,.754,2.942,.728,2.952,.703,2.967,.703,2.972,.677,2.946,.643,2.931,.618,2.961,.635,2.983,.626,2.991,.626,3.004,.618,2.96,.567,2.974,.575,2.995,.567,2.938,.507,2.955,.499,2.973,.465,2.985,.507,3.002,.516,2.94,.422,2.979,.405,3.008,.448,3.007,.363,3.023,.38,2.941,.334,2.963,.346,2.951,.303,2.951,.252,2.967,.261,2.962,.201,2.973,.261,2.988,.295,2.984,.244,2.995,.261,3.002,.261,3.008,.218,3.022,.295,3.029,.244,3.019,.227,3.029,.176,2.989,.145,2.942,.193,2.947,.121,2.974,.08,2.961,.048,2.968,-.011,3.008,.074,3.007,-.011,3.017,.014,3.024,.125,3.034,.07,3.046,.244,3.046,.159,3.053,.108,3.061,.091,3.051,.057,3.061,.014,3.038,-.011,3.045,-.062,3.063,-.037,3.058,-.097,3.078,-.08,3.078,-.011,3.093,-.131,3.09,-.182,3.094,-.267,3.106,-.301,3.117,-.318,3.129,-.25,3.145,-.309,3.158,-.377,3.158,-.437,3.146,-.471,3.105,-.352,3.119,-.437,3.124,-.488,3.134,-.496,3.126,-.547,3.149,-.522,3.156,-.556,3.168,-.496,3.176,-.505,3.183,-.547,3.173,-.573,3.158,-.607,3.168,-.607,3.181,-.641,3.194,-.603,3.193,-.675,3.2,-.709,3.211,-.697,3.171,-.709,3.158,-.709,3.15,-.739,3.183,-.709,3.168,-.794,3.181,-.794,3.193,-.777,3.205,-.811,3.193,-.862,3.207,-.879,3.217,-.828,3.227,-.828,3.23,-.896,3.237,-.93,3.217,-.913,3.247,-.99,3.189,-.93,3.202,-.93,3.232,-.998,2.933,-.006,2.936,-.114,2.96,-.075,2.968,-.11,2.983,-.071,3.011,-.156,3.029,-.165,3.053,-.173,3.049,-.232,3.072,-.173,3.068,-.25,3.076,-.224,3.07,-.326,3.059,-.364,3.085,-.309,3.09,-.403,3.083,-.518,3.091,-.501,3.104,-.522,3.11,-.535,3.106,-.627,3.119,-.624,3.035,-.564,3.007,-.5,2.97,-.258,2.975,-.241,2.995,-.267,2.992,-.352,2.984,-.428,2.98,-.462,2.952,-.688,2.955,-.882,
2.89,1,2.885,.96,2.895,1.05,2.905,1.03,2.91,1.06,2.89,1.09,2.9,1.1,2.88,1.1,2.895,.93,2.905,.95,2.915,1.03,2.91,.95,2.91,1.1,
2.93,.93,2.95,.9,2.965,.9,2.96,.84,2.97,.85,2.945,.8,2.93,.77,2.92,.7,2.94,.66,2.955,.76,2.97,.76,2.98,.7,2.99,.68,3,.66,3.01,.6,3,.58,2.985,.55,2.97,.52,2.96,.61,2.95,.58,2.94,.6,2.98,.5,2.995,.48,3.01,.5,3.02,.5,3.02,.44,3.015,.35,3.03,.32,3.035,.25,3.02,.2,3.01,.29,2.99,.35,2.98,.3,2.97,.34,2.96,.3,3,.4,2.99,.2,2.965,.15,2.95,.17,2.98,.1,3,.07,3.02,.07,3.04,.05,3.05,.2,3.06,.17,3.07,.1,3.08,.03,3.09,-.05,3.08,-.13,3.1,-.2,3.11,-.25,3.05,0,3.06,-.05,3.07,-.09,3.12,-.38,3.13,-.43,3.14,-.43,3.15,-.44,3.16,-.52,3.17,-.55,3.18,-.6,3.165,-.65,3.175,-.67,3.19,-.65,3.19,-.7,3.18,-.75,3.2,-.78,3.205,-.74,3.17,-.75,3.16,-.76,3.21,-.86,3.22,-.87,3.2,-.86,3.215,-.95,3.225,-.95,3.23,-.94,3.18,-.87,3.17,-.85,
3.03,.1,3.04,.12,3.03,.03,3.02,-.02,3.05,.1,3.06,.05,3.07,.02,3.07,-.03,3.08,-.08,3.09,-.12,3.1,-.27,3.1,-.33,3.09,-.34,3.08,-.28,3.08,-.22,3.06,-.2,3.04,-.14,3.05,-.25,3.06,-.3,3.12,-.3,3.13,-.35,3.14,-.35,3.11,-.4,3.12,-.45,3.14,-.5,3.15,-.55,3.16,-.6,3.17,-.62,3.15,-.65,3.14,-.6,3.13,-.55,3.17,-.7,3.19,-.8,3.2,-.82,3.21,-.8,3.185,-.85,3.195,-.92,3.21,-.92,3.2,-.95,3.18,-.95,3.19,-.98,3.22,-.92];
const s04=[
2.402,1.97,2.5,1.369,2.492,.745,2.522,.624,2.613,.623,2.587,.538,2.582,.461,2.636,.482,2.409,.475,2.455,.17,2.56,-.598,2.564,-.712,2.645,-.632,
2.871,1.714,2.924,1.343,2.929,1.331,2.929,1.272,2.939,1.221,2.947,1.246,2.948,1.195,2.959,1.148,2.947,1.11,2.972,1.119,2.967,1.076,2.975,1.025,2.983,.94,2.977,.906,2.992,.864,2.977,.838,3.002,.838,2.988,.705,2.977,.821,
2.949,1.247,2.939,1.221,2.949,1.196,2.97,1.119,2.966,1.068,2.975,.898,2.977,.839,2.988,.907,2.994,.864,3.011,.856,3.007,.728,3.012,.737,3.008,.686,3.024,.762,3.028,.728,2.988,.703,3.019,.643,3.029,.652,3.041,.652,3.047,.643,3.011,.592,3.027,.601,3.032,.55,3.039,.55,3.019,.499,3.029,.448,3.039,.482,3.046,.448,3.029,.371,3.041,.38,3.051,.55,3.057,.55,3.065,.516,3.051,.482,3.063,.448,3.054,.405,3.071,.414,3.079,.448,3.063,.38,3.05,.312,3.054,.261,3.065,.329,3.078,.312,3.089,.32,3.095,.252,3.083,.278,3.071,.261,3.063,.193,3.071,.176,3.077,.227,3.102,.193,3.107,.15,3.093,.176,3.078,.142,3.088,.125,3.1,.125,3.083,.074,3.095,.074,3.117,.065,3.107,.057,3.112,.005,3.123,-.011,3.128,-.046,3.075,.031,3.083,.014,3.095,.005,3.104,-.011,3.091,-.054,3.1,-.113,3.117,-.037,3.115,-.139,3.127,-.131,3.122,-.182,3.106,-.216,3.122,-.241,3.137,-.207,3.137,-.25,3.128,-.309,3.14,-.377,3.152,-.326,3.151,-.406,
3.035,.6,3.045,.6,3.02,.55,3.02,.45,3.04,.43,3.055,.47,3.035,.5,3.06,.4,3.04,.34,3.07,.35,3.08,.36,3.06,.28,3.07,.22,3.085,.23,3.09,.27,3.1,.15,3.09,.12,3.08,.1,3.105,.1,3.11,.08,3.1,.03,3.09,.04,3.11,.03,3.12,.03,3.1,-.05,3.11,-.07,3.12,-.1,3.13,-.09,3.105,-.14,3.11,-.17,3.12,-.13];
const limitMass=[260,270,280,290,300,400,500,600,700,800,900,1000,1100,1200,1400,1600,1800,2000];
const limitSigma=[2427,3970,5000,2780,1045,218,47.3,27,13.9,22.8,12.6,8.56,10.9,8,3.52,4.27,2.23,2.32];
const xTicks=[200,300,400,500,1000,2000];
const xMinor=[600,700,800,900];
const yTicks=[0.1,1,10,100,1000,10000];
const yMinor=[0.2,0.5,0.8,2,5,8,20,50,80,200,500,800,2000,5000,8000];
const seriesColors={ex:"#ff6a6a",s1:"#009933",s2:"#005a9c",s3:"#000099",s4:"#770077"};
const legendRows=[["ex",117],["s1",167],["s2",217],["s3",266],["s4",316]];

const svg=d3.select("#c");
const L=299.5,R=1664.5,T=27.5,B=1007,FS=47,SUB=37,SX=1.065,SL=1.05;
const x=d3.scaleLog().domain([200,2000]).range([L,R]);
const y=d3.scaleLog().domain([0.1,10000]).range([B,T]);
const pairs=a=>d3.range(0,a.length,2).map(i=>[10**a[i],10**a[i+1]]);

const tg=svg.append("g");
function ticks(scale,vals,orient,pos,len,w){
  const mk={b:d3.axisBottom,t:d3.axisTop,l:d3.axisLeft,r:d3.axisRight}[orient];
  const g=tg.append("g").attr("transform",orient==="b"||orient==="t"?`translate(0,${pos})`:`translate(${pos},0)`)
    .call(mk(scale).tickValues(vals).tickSize(-len).tickFormat(""));
  g.select(".domain").remove();
  g.selectAll("line").attr("stroke","#000").attr("stroke-width",w);
}
const xAll=xTicks.concat(xMinor);
ticks(x,xAll,"b",B,16,5);ticks(x,xAll,"t",T,16,5);
ticks(y,yTicks,"l",L,16,6);ticks(y,yTicks,"r",R,16,6);
ticks(y,yMinor,"l",L,8,5);ticks(y,yMinor,"r",R,8,5);

function dots(a,c){svg.append("g").selectAll("circle").data(pairs(a)).join("circle")
  .attr("cx",d=>x(d[0])).attr("cy",d=>y(d[1])).attr("r",7.6).attr("fill",c);}
dots(excluded,seriesColors.ex);dots(s01,seriesColors.s1);dots(s02,seriesColors.s2);dots(s03,seriesColors.s3);dots(s04,seriesColors.s4);

const line=d3.line().x(d=>x(d[0])).y(d=>y(d[1]));
svg.append("path").datum(limitMass.map((m,i)=>[m,limitSigma[i]])).attr("d",line)
  .attr("fill","none").attr("stroke","#0a5cff").attr("stroke-width",5);

svg.append("rect").attr("x",L).attr("y",T).attr("width",R-L).attr("height",B-T)
  .attr("fill","none").attr("stroke","#000").attr("stroke-width",10);

function txt(px,py,anchor,sx){return svg.append("text").attr("transform",`translate(${px},${py}) scale(${sx||SX},1)`)
  .attr("text-anchor",anchor).attr("font-size",FS);}
yTicks.forEach(v=>txt(270,y(v)+16,"end",1.05).text(String(v)));
xTicks.forEach(v=>txt(x(v)+6,1072,"middle",1.06).text(v));

const xt=txt(981,1141,"middle");
xt.append("tspan").text("m");
xt.append("tspan").attr("dy",12).attr("font-size",SUB).text("H");
xt.append("tspan").attr("dy",-12).text(" (GeV)");
svg.append("text").attr("transform","translate(56,518) rotate(-90) scale(1.036,1)").attr("text-anchor","middle")
  .attr("font-size",FS).text("σ(gg → H → hh → 4b) (fb)");

txt(1196.5,85,"middle").text("GMCALC 1.4.1, 13 TeV LHC");
const r1=txt(1441,138,"end",SL);
r1.append("tspan").text("excluded by H");
r1.append("tspan").attr("dy",-22).attr("font-size",SUB).text("++");
r1.append("tspan").attr("dy",22).text(" searches");
const r2=txt(1441,178,"end",SL);
r2.append("tspan").text("allowed, s");
r2.append("tspan").attr("dy",14).attr("font-size",SUB).text("H");
r2.append("tspan").attr("dy",-14).text(" = 0.1");
txt(1441,232,"end",SL).text("0.2");txt(1441,282,"end",SL).text("0.3");txt(1441,332,"end",SL).text("0.4");
txt(1441,381,"end",SL).text("ATLAS limit, 1804.06174");
svg.append("g").selectAll("circle").data(legendRows).join("circle").attr("cx",1539).attr("cy",d=>d[1]).attr("r",7.6).attr("fill",d=>seriesColors[d[0]]);
svg.append("line").attr("x1",1471).attr("x2",1606).attr("y1",365).attr("y2",365).attr("stroke","#0a5cff").attr("stroke-width",5);
</script></body></html>
